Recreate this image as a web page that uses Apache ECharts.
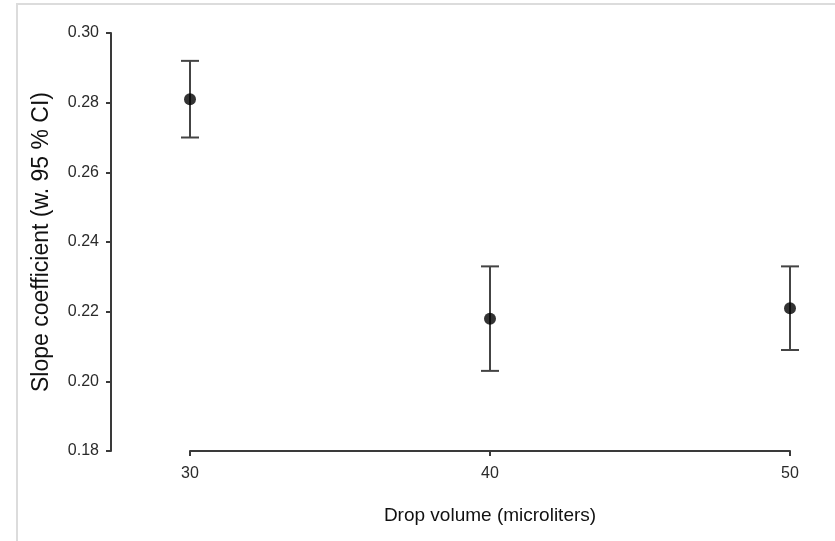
<!DOCTYPE html>
<html>
<head>
<meta charset="utf-8">
<script src="https://cdn.jsdelivr.net/npm/echarts@6/dist/echarts.min.js"></script>
<style>
html,body{margin:0;padding:0;background:#fff;}
#frame{position:absolute;left:16px;top:3px;width:830px;height:560px;border:2px solid #dcdcdc;box-sizing:border-box;}
#chart{position:absolute;left:0;top:0;width:835px;height:541px;}
</style>
</head>
<body>
<div id="frame"></div>
<div id="chart"></div>
<script>
const volumes = [30, 40, 50];
const slope = [0.281, 0.218, 0.221];
const lower = [0.270, 0.203, 0.209];
const upper = [0.292, 0.233, 0.233];
const xTicks = [30, 40, 50];
const yTicks = [0.18, 0.20, 0.22, 0.24, 0.26, 0.28, 0.30];
const xTitle = 'Drop volume (microliters)';
const yTitle = 'Slope coefficient (w. 95 % CI)';

const chart = echarts.init(document.getElementById('chart'), null, {renderer: 'canvas'});
const font = 'Liberation Sans, Arial, sans-serif';
const errData = volumes.map((v, i) => [v, lower[i], upper[i]]);
const ptData = volumes.map((v, i) => [v, slope[i]]);

chart.setOption({
  animation: false,
  backgroundColor: 'transparent',
  grid: {left: 190, right: 45, top: 33, bottom: 90},
  xAxis: {
    type: 'value', min: 30, max: 50, interval: 10,
    name: xTitle, nameLocation: 'middle', nameGap: 55,
    nameTextStyle: {fontFamily: font, fontSize: 19, color: '#111'},
    axisLine: {show: true, lineStyle: {color: '#3a3a3a', width: 2}},
    axisTick: {show: true, length: 5, lineStyle: {color: '#3a3a3a', width: 2}},
    axisLabel: {margin: 15, fontFamily: font, fontSize: 16, color: '#2a2a2a',
      formatter: v => xTicks.includes(v) ? String(v) : ''},
    splitLine: {show: false}
  },
  yAxis: {
    type: 'value', min: 0.18, max: 0.30, interval: 0.02, offset: 79,
    name: yTitle, nameLocation: 'middle', nameGap: 58,
    nameTextStyle: {fontFamily: font, fontSize: 23, color: '#111'},
    axisLine: {show: true, lineStyle: {color: '#3a3a3a', width: 2}},
    axisTick: {show: true, length: 5, lineStyle: {color: '#3a3a3a', width: 2}},
    axisLabel: {margin: 12, fontFamily: font, fontSize: 16, color: '#2a2a2a',
      formatter: v => { const t = yTicks.find(t => Math.abs(t - v) < 1e-9); return t !== undefined ? t.toFixed(2) : ''; }},
    splitLine: {show: false}
  },
  series: [
    {
      type: 'custom',
      data: errData,
      renderItem: function (params, api) {
        const x = api.value(0);
        const lo = api.coord([x, api.value(1)]);
        const hi = api.coord([x, api.value(2)]);
        const hw = 9;
        const style = {stroke: '#444', lineWidth: 2};
        return {
          type: 'group',
          children: [
            {type: 'line', shape: {x1: lo[0], y1: lo[1], x2: hi[0], y2: hi[1]}, style: style},
            {type: 'line', shape: {x1: lo[0] - hw, y1: lo[1], x2: lo[0] + hw, y2: lo[1]}, style: style},
            {type: 'line', shape: {x1: hi[0] - hw, y1: hi[1], x2: hi[0] + hw, y2: hi[1]}, style: style}
          ]
        };
      },
      z: 2
    },
    {
      type: 'scatter',
      data: ptData,
      symbol: 'circle',
      symbolSize: 12,
      itemStyle: {color: '#000'},
      z: 3
    }
  ]
});
</script>
</body>
</html>
